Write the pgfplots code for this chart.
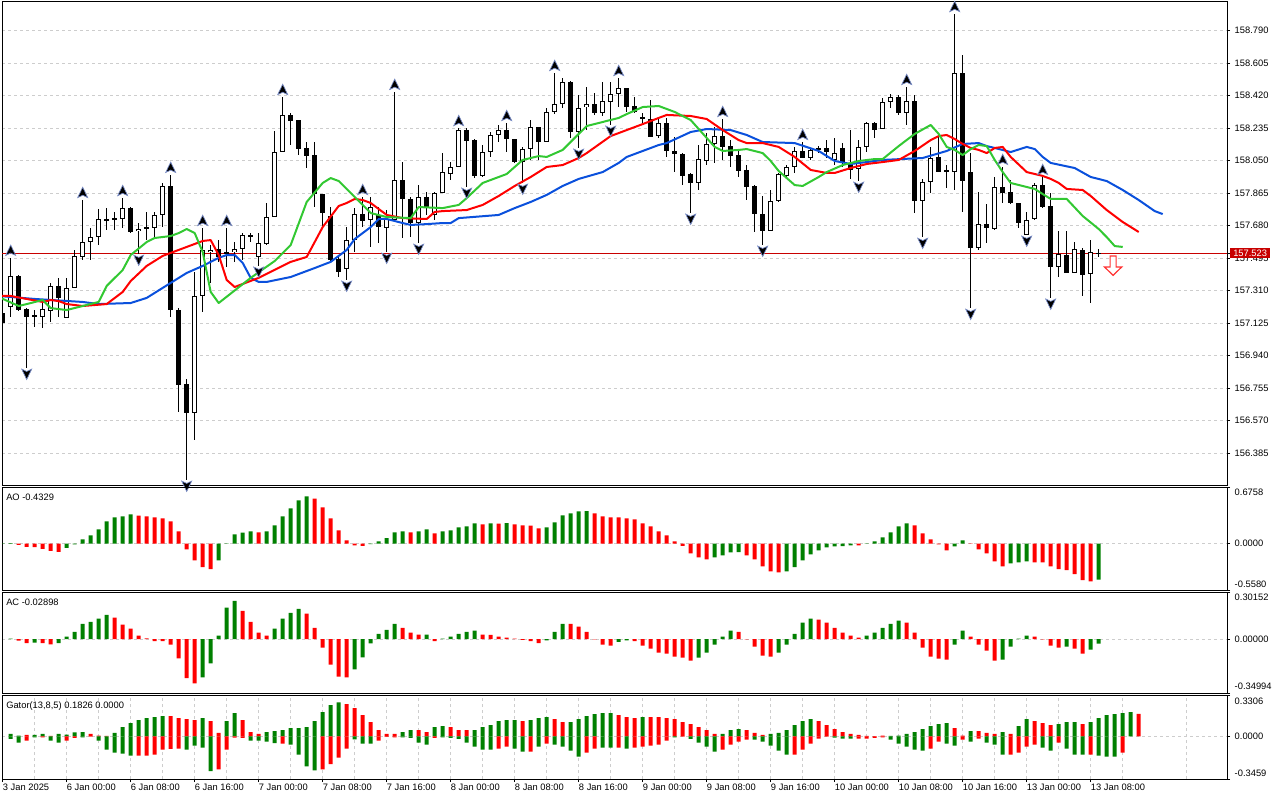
\documentclass[border=0pt]{standalone}
\usepackage{fontspec}
\setmainfont{Liberation Sans}
\usepackage{pgfplots}
\pgfplotsset{compat=1.18}
\usepackage{pgfplotstable}

\definecolor{jawc}{RGB}{10,80,220}
\definecolor{teethc}{RGB}{255,0,0}
\definecolor{lipsc}{RGB}{50,200,50}
\definecolor{barg}{RGB}{0,128,0}
\definecolor{barr}{RGB}{255,0,0}
\definecolor{gridc}{RGB}{205,205,205}
\definecolor{pricec}{RGB}{200,0,0}
\definecolor{fracedge}{RGB}{120,140,200}
\definecolor{selledge}{RGB}{255,50,50}

\pgfdeclareplotmark{fup}{%
  \pgfpathmoveto{\pgfqpoint{0pt}{9.6pt}}%
  \pgfpathlineto{\pgfqpoint{3.75pt}{1.8pt}}%
  \pgfpathlineto{\pgfqpoint{0pt}{3.6pt}}%
  \pgfpathlineto{\pgfqpoint{-3.75pt}{1.8pt}}%
  \pgfpathclose\pgfusepathqfillstroke}
\pgfdeclareplotmark{fdn}{%
  \pgfpathmoveto{\pgfqpoint{0pt}{-8.6pt}}%
  \pgfpathlineto{\pgfqpoint{3.75pt}{-0.8pt}}%
  \pgfpathlineto{\pgfqpoint{0pt}{-2.6pt}}%
  \pgfpathlineto{\pgfqpoint{-3.75pt}{-0.8pt}}%
  \pgfpathclose\pgfusepathqfillstroke}
\pgfdeclareplotmark{sell}{%
  \pgfpathmoveto{\pgfqpoint{-2.25pt}{0pt}}%
  \pgfpathlineto{\pgfqpoint{2.25pt}{0pt}}%
  \pgfpathlineto{\pgfqpoint{2.25pt}{-8.25pt}}%
  \pgfpathlineto{\pgfqpoint{6.5pt}{-8.25pt}}%
  \pgfpathlineto{\pgfqpoint{0pt}{-14.6pt}}%
  \pgfpathlineto{\pgfqpoint{-6.5pt}{-8.25pt}}%
  \pgfpathlineto{\pgfqpoint{-2.25pt}{-8.25pt}}%
  \pgfpathclose\pgfusepathqfillstroke}

\pgfplotstableread{
k o h l c
0 157.183 157.200 157.115 157.126
1 157.217 157.497 157.160 157.394
2 157.394 157.400 157.194 157.200
3 157.206 157.211 156.870 157.160
4 157.166 157.200 157.103 157.171
5 157.160 157.246 157.097 157.206
6 157.194 157.354 157.132 157.337
7 157.337 157.383 157.160 157.269
8 157.154 157.383 157.154 157.326
9 157.326 157.542 157.326 157.508
10 157.502 157.826 157.485 157.587
11 157.587 157.667 157.485 157.615
12 157.615 157.775 157.570 157.718
13 157.712 157.780 157.655 157.718
14 157.718 157.758 157.655 157.723
15 157.718 157.837 157.667 157.780
16 157.780 157.786 157.638 157.644
17 157.649 157.695 157.519 157.661
18 157.667 157.758 157.598 157.672
19 157.667 157.758 157.615 157.741
20 157.741 157.923 157.672 157.906
21 157.906 157.969 157.160 157.200
22 157.200 157.211 156.620 156.774
23 156.779 156.808 156.233 156.614
24 156.614 157.417 156.460 157.280
25 157.280 157.667 157.189 157.542
26 157.530 157.570 157.354 157.542
27 157.547 157.598 157.474 157.502
28 157.519 157.667 157.445 157.530
29 157.530 157.587 157.474 157.547
30 157.547 157.638 157.485 157.627
31 157.621 157.638 157.587 157.627
32 157.502 157.638 157.451 157.581
33 157.575 157.809 157.570 157.729
34 157.729 158.218 157.729 158.099
35 158.099 158.412 158.099 158.310
36 158.310 158.321 158.139 158.276
37 158.281 158.281 158.082 158.116
38 158.122 158.156 158.008 158.076
39 158.082 158.156 157.786 157.860
40 157.860 157.860 157.672 157.752
41 157.735 157.786 157.474 157.485
42 157.491 157.502 157.388 157.417
43 157.434 157.672 157.371 157.598
44 157.598 157.780 157.530 157.746
45 157.746 157.843 157.672 157.706
46 157.712 157.843 157.559 157.786
47 157.741 157.786 157.581 157.672
48 157.667 157.769 157.530 157.718
49 157.712 158.441 157.712 157.940
50 157.940 158.042 157.610 157.832
51 157.832 157.843 157.615 157.695
52 157.695 157.911 157.581 157.843
53 157.843 157.871 157.741 157.786
54 157.741 157.871 157.712 157.866
55 157.866 158.093 157.866 157.985
56 157.974 158.042 157.940 158.014
57 158.014 158.235 158.014 158.224
58 158.224 158.235 157.900 158.161
59 158.167 158.173 157.951 157.963
60 157.963 158.139 157.957 158.099
61 158.099 158.213 158.071 158.196
62 158.196 158.253 158.156 158.224
63 158.224 158.264 158.099 158.173
64 158.173 158.173 158.037 158.042
65 158.042 158.128 157.923 158.116
66 158.116 158.281 158.054 158.241
67 158.241 158.241 158.054 158.156
68 158.156 158.349 158.156 158.327
69 158.327 158.549 158.315 158.372
70 158.372 158.520 158.350 158.497
71 158.497 158.503 158.179 158.213
72 158.213 158.423 158.122 158.349
73 158.355 158.469 158.224 158.372
74 158.372 158.435 158.310 158.321
75 158.321 158.497 158.304 158.389
76 158.384 158.497 158.253 158.429
77 158.429 158.520 158.355 158.463
78 158.463 158.463 158.327 158.355
79 158.361 158.412 158.321 158.327
80 158.298 158.321 158.253 158.287
81 158.287 158.395 158.184 158.184
82 158.190 158.293 158.179 158.264
83 158.264 158.293 158.071 158.105
84 158.105 158.184 157.985 158.088
85 158.088 158.093 157.911 157.963
86 157.974 157.980 157.752 157.923
87 157.923 158.139 157.883 158.059
88 158.048 158.207 158.025 158.145
89 158.145 158.241 158.037 158.190
90 158.190 158.287 158.054 158.128
91 158.133 158.167 158.014 158.076
92 158.082 158.111 157.957 157.991
93 157.997 158.025 157.826 157.900
94 157.906 157.911 157.644 157.746
95 157.746 157.849 157.570 157.649
96 157.649 157.883 157.649 157.820
97 157.820 157.980 157.815 157.974
98 157.963 158.025 157.957 158.014
99 158.014 158.128 157.980 158.105
100 158.105 158.156 158.065 158.065
101 158.065 158.122 158.054 158.111
102 158.111 158.133 158.093 158.122
103 158.122 158.167 158.065 158.099
104 158.054 158.179 158.025 158.093
105 158.122 158.150 158.014 158.037
106 158.031 158.224 157.946 157.997
107 158.002 158.167 157.934 158.128
108 158.128 158.270 158.099 158.264
109 158.264 158.270 158.179 158.224
110 158.230 158.406 158.230 158.384
111 158.384 158.429 158.349 158.412
112 158.412 158.423 158.310 158.321
113 158.321 158.469 158.253 158.389
114 158.389 158.423 157.752 157.820
115 157.820 157.946 157.615 157.929
116 157.929 158.128 157.866 158.065
117 158.071 158.184 157.985 157.985
118 157.997 158.025 157.894 157.985
119 157.985 158.884 157.883 158.549
120 158.549 158.651 157.758 157.934
121 157.985 158.093 157.211 157.553
122 157.553 157.871 157.542 157.689
123 157.689 157.803 157.581 157.667
124 157.661 157.957 157.655 157.900
125 157.900 158.014 157.809 157.866
126 157.871 157.940 157.803 157.809
127 157.809 157.809 157.667 157.695
128 157.627 157.758 157.627 157.712
129 157.718 157.923 157.712 157.911
130 157.911 157.957 157.780 157.786
131 157.792 157.866 157.269 157.445
132 157.445 157.649 157.388 157.519
133 157.513 157.649 157.411 157.411
134 157.411 157.587 157.411 157.547
135 157.542 157.553 157.280 157.400
136 157.405 157.598 157.240 157.530
137 157.525 157.547 157.502 157.523
}\candles

\pgfplotstableread{
k v
-0.5 157.280
4 157.263
10 157.246
12 157.234
16 157.240
18 157.269
20 157.326
23 157.411
25 157.451
26 157.474
27 157.497
28 157.513
29 157.513
30 157.468
31 157.383
32 157.360
33 157.360
36 157.388
39 157.439
41 157.474
43 157.542
44 157.604
46 157.672
47 157.718
48 157.718
50 157.695
51 157.684
53 157.689
55 157.695
56 157.695
57 157.723
62 157.741
64 157.780
66 157.815
68 157.855
70 157.906
72 157.946
75 157.985
77 158.037
78 158.071
80 158.105
82 158.139
83 158.150
86 158.213
88 158.230
91 158.224
93 158.196
95 158.156
99 158.150
102 158.105
104 158.048
106 158.031
108 158.042
110 158.054
115 158.065
118 158.105
120 158.145
122 158.150
123 158.133
124 158.122
126 158.099
128 158.128
129 158.116
130 158.071
131 158.037
134 158.008
136 157.957
138 157.934
140 157.883
142 157.826
144 157.763
145 157.746
}\jaw

\pgfplotstableread{
k v
-0.5 157.280
1 157.280
3 157.263
5 157.246
6 157.257
7 157.251
8 157.234
10 157.223
13 157.234
15 157.303
16 157.365
18 157.451
20 157.508
23 157.559
25 157.593
26 157.598
27 157.513
28 157.371
29 157.331
32 157.383
36 157.474
38 157.502
40 157.672
42 157.792
43 157.809
44 157.832
45 157.826
46 157.809
48 157.741
50 157.723
53 157.718
54 157.758
55 157.763
58 157.769
60 157.798
62 157.849
64 157.906
66 157.957
68 158.014
70 158.025
72 158.065
73 158.093
76 158.190
78 158.224
80 158.258
82 158.293
83 158.310
86 158.304
88 158.287
90 158.224
92 158.167
93 158.150
95 158.150
97 158.128
99 158.071
101 157.997
103 157.980
104 157.980
106 158.008
108 158.031
110 158.042
112 158.054
114 158.105
116 158.167
117 158.190
118 158.196
119 158.173
120 158.145
121 158.122
122 158.111
123 158.093
124 158.122
125 158.128
126 158.071
128 157.985
130 157.963
131 157.946
132 157.923
133 157.889
135 157.883
136 157.849
138 157.769
140 157.701
142 157.644
}\teeth

\pgfplotstableread{
k v
-0.5 157.274
2 157.223
3 157.234
5 157.257
6 157.211
8 157.200
10 157.223
12 157.246
13 157.337
15 157.428
16 157.513
18 157.587
19 157.610
21 157.621
22 157.638
23 157.661
24 157.638
25 157.530
26 157.303
27 157.240
31 157.383
34 157.479
36 157.570
38 157.815
40 157.923
41 157.951
42 157.934
44 157.843
46 157.752
48 157.729
51 157.723
52 157.786
55 157.780
57 157.798
58 157.837
60 157.923
62 157.957
63 157.974
65 158.054
67 158.076
68 158.071
70 158.111
72 158.202
73 158.247
75 158.270
77 158.293
78 158.315
80 158.355
82 158.361
84 158.327
86 158.281
87 158.230
88 158.179
89 158.128
90 158.105
92 158.111
93 158.116
95 158.093
96 158.048
97 157.991
99 157.911
100 157.906
102 157.957
103 157.985
105 158.025
107 158.048
109 158.059
110 158.059
112 158.133
114 158.202
116 158.253
117 158.202
118 158.128
119 158.111
120 158.082
121 158.116
122 158.139
123 158.133
124 158.054
125 157.985
126 157.923
128 157.900
129 157.889
130 157.860
131 157.832
133 157.832
135 157.735
137 157.661
138 157.615
139 157.564
140 157.559
}\lips

\pgfplotstableread{
k v
1 157.497
10 157.826
15 157.837
21 157.969
25 157.667
28 157.667
35 158.412
45 157.843
49 158.441
57 158.235
63 158.264
69 158.549
77 158.520
90 158.287
100 158.156
113 158.469
119 158.884
125 158.014
130 157.957
}\fracup

\pgfplotstableread{
k v
3 156.870
17 157.519
23 156.233
32 157.451
43 157.371
48 157.530
52 157.581
58 157.900
65 157.923
72 158.122
76 158.253
86 157.752
95 157.570
107 157.934
115 157.615
121 157.211
128 157.627
131 157.269
}\fracdn

\pgfplotstableread{
k g r
0 0.003 nan
1 0.005 nan
2 nan -0.015
3 nan -0.040
4 nan -0.042
5 nan -0.064
6 nan -0.088
7 nan -0.100
8 -0.052 nan
9 -0.010 nan
10 0.052 nan
11 0.100 nan
12 0.172 nan
13 0.268 nan
14 0.316 nan
15 0.329 nan
16 0.353 nan
17 nan 0.337
18 nan 0.329
19 nan 0.316
20 nan 0.304
21 nan 0.268
22 nan 0.148
23 nan -0.068
24 nan -0.200
25 nan -0.284
26 nan -0.308
27 -0.200 nan
28 0.002 nan
29 0.112 nan
30 0.132 nan
31 0.148 nan
32 nan 0.136
33 0.148 nan
34 0.220 nan
35 0.329 nan
36 0.425 nan
37 0.521 nan
38 0.569 nan
39 nan 0.541
40 nan 0.437
41 nan 0.304
42 nan 0.160
43 nan 0.040
44 nan -0.020
45 nan -0.028
46 -0.005 nan
47 0.028 nan
48 0.068 nan
49 0.136 nan
50 0.148 nan
51 nan 0.136
52 0.148 nan
53 0.172 nan
54 nan 0.124
55 0.148 nan
56 0.160 nan
57 0.196 nan
58 0.208 nan
59 0.244 nan
60 nan 0.232
61 0.244 nan
62 nan 0.242
63 0.246 nan
64 nan 0.232
65 nan 0.220
66 nan 0.218
67 nan 0.184
68 0.196 nan
69 0.256 nan
70 0.341 nan
71 0.365 nan
72 0.389 nan
73 0.392 nan
74 nan 0.365
75 nan 0.329
76 nan 0.316
77 nan 0.315
78 nan 0.304
79 nan 0.292
80 nan 0.244
81 nan 0.208
82 nan 0.148
83 nan 0.100
84 nan 0.028
85 nan -0.028
86 nan -0.116
87 nan -0.164
88 nan -0.188
89 -0.164 nan
90 -0.140 nan
91 -0.104 nan
92 -0.102 nan
93 nan -0.140
94 nan -0.188
95 nan -0.272
96 nan -0.333
97 nan -0.345
98 -0.333 nan
99 -0.284 nan
100 -0.200 nan
101 -0.128 nan
102 -0.080 nan
103 -0.044 nan
104 -0.032 nan
105 -0.030 nan
106 -0.020 nan
107 nan -0.021
108 0.002 nan
109 0.028 nan
110 0.076 nan
111 0.136 nan
112 0.208 nan
113 0.244 nan
114 nan 0.220
115 nan 0.124
116 nan 0.052
117 nan -0.008
118 nan -0.080
119 -0.032 nan
120 0.040 nan
121 nan -0.003
122 nan -0.068
123 nan -0.116
124 nan -0.212
125 nan -0.272
126 -0.236 nan
127 -0.224 nan
128 -0.212 nan
129 nan -0.224
130 nan -0.226
131 nan -0.272
132 nan -0.308
133 nan -0.320
134 nan -0.368
135 nan -0.440
136 nan -0.453
137 -0.4329 nan
}\ao

\pgfplotstableread{
k g r
1 0.002 nan
2 nan -0.011
3 nan -0.026
4 -0.024 nan
5 nan -0.026
6 nan -0.034
7 -0.026 nan
8 0.015 nan
9 0.047 nan
10 0.099 nan
11 0.112 nan
12 0.132 nan
13 0.157 nan
14 nan 0.138
15 nan 0.093
16 nan 0.067
17 nan 0.022
18 nan 0.004
19 nan -0.013
20 nan -0.014
21 nan -0.037
22 nan -0.125
23 nan -0.254
24 nan -0.287
25 -0.248 nan
26 -0.157 nan
27 0.022 nan
28 0.203 nan
29 0.248 nan
30 nan 0.183
31 nan 0.112
32 nan 0.041
33 nan 0.022
34 0.067 nan
35 0.132 nan
36 0.170 nan
37 0.196 nan
38 nan 0.164
39 nan 0.073
40 nan -0.056
41 nan -0.166
42 nan -0.244
43 nan -0.248
44 -0.196 nan
45 -0.119 nan
46 -0.028 nan
47 0.034 nan
48 0.060 nan
49 0.099 nan
50 nan 0.073
51 nan 0.041
52 nan 0.028
53 0.029 nan
54 nan -0.013
55 0.002 nan
56 0.015 nan
57 0.034 nan
58 0.047 nan
59 0.054 nan
60 nan 0.028
61 nan 0.027
62 nan 0.015
63 nan 0.009
64 nan 0.002
65 nan -0.006
66 nan -0.013
67 nan -0.026
68 -0.008 nan
69 0.047 nan
70 0.099 nan
71 nan 0.098
72 nan 0.080
73 nan 0.047
74 nan -0.002
75 nan -0.037
76 nan -0.043
77 -0.019 nan
78 -0.008 nan
79 nan -0.013
80 nan -0.043
81 nan -0.063
82 nan -0.088
83 nan -0.095
84 nan -0.114
85 nan -0.121
86 nan -0.140
87 -0.121 nan
88 -0.088 nan
89 -0.037 nan
90 0.015 nan
91 0.054 nan
92 nan 0.047
93 nan -0.003
94 nan -0.050
95 nan -0.108
96 nan -0.114
97 -0.088 nan
98 -0.037 nan
99 0.034 nan
100 0.106 nan
101 0.132 nan
102 nan 0.125
103 nan 0.106
104 nan 0.073
105 nan 0.041
106 nan 0.022
107 nan 0.009
108 0.022 nan
109 0.041 nan
110 0.073 nan
111 0.099 nan
112 0.119 nan
113 nan 0.106
114 nan 0.041
115 nan -0.056
116 nan -0.114
117 nan -0.127
118 nan -0.134
119 -0.037 nan
120 0.054 nan
121 nan 0.015
122 nan -0.037
123 nan -0.075
124 nan -0.140
125 -0.134 nan
126 -0.050 nan
127 0.002 nan
128 0.022 nan
129 nan 0.015
130 nan -0.002
131 nan -0.043
132 nan -0.056
133 -0.050 nan
134 nan -0.063
135 nan -0.095
136 -0.069 nan
137 -0.02898 nan
}\ac

\pgfplotstableread{
k ug ur lg lr
1 0.019 nan -0.021 nan
2 0.005 nan -0.051 nan
3 nan 0.011 nan -0.035
4 0.011 nan -0.008 nan
5 0.019 nan nan -0.008
6 nan 0.004 -0.035 nan
7 0.019 nan -0.051 nan
8 0.013 nan nan -0.035
9 0.032 nan nan -0.013
10 0.035 nan -0.008 nan
11 nan 0.019 nan -0.003
12 nan 0.005 -0.035 nan
13 nan 0.004 -0.107 nan
14 0.027 nan -0.132 nan
15 0.075 nan -0.140 nan
16 0.107 nan -0.156 nan
17 0.132 nan nan -0.156
18 0.148 nan nan -0.156
19 0.156 nan nan -0.148
20 0.164 nan nan -0.107
21 nan 0.164 nan -0.102
22 nan 0.148 nan -0.099
23 nan 0.140 -0.107 nan
24 nan 0.132 -0.075 nan
25 0.148 nan -0.091 nan
26 nan 0.123 -0.282 nan
27 nan 0.027 nan -0.268
28 0.123 nan nan -0.107
29 0.188 nan nan -0.011
30 nan 0.132 nan -0.013
31 nan 0.035 -0.035 nan
32 nan 0.019 -0.035 nan
33 0.035 nan -0.043 nan
34 0.043 nan -0.056 nan
35 0.051 nan nan -0.059
36 0.067 nan -0.067 nan
37 0.067 nan -0.148 nan
38 0.075 nan -0.244 nan
39 0.123 nan -0.276 nan
40 0.196 nan nan -0.268
41 0.252 nan nan -0.225
42 0.276 nan nan -0.172
43 nan 0.260 nan -0.099
44 nan 0.228 -0.024 nan
45 nan 0.172 -0.059 nan
46 nan 0.115 -0.059 nan
47 nan 0.051 nan -0.035
48 nan 0.019 nan -0.005
49 nan 0.019 nan -0.008
50 0.035 nan -0.008 nan
51 0.051 nan -0.013 nan
52 nan 0.051 -0.051 nan
53 nan 0.035 -0.067 nan
54 0.075 nan nan -0.013
55 0.083 nan -0.008 nan
56 nan 0.075 -0.013 nan
57 nan 0.051 -0.021 nan
58 nan 0.051 -0.051 nan
59 0.051 nan -0.083 nan
60 0.075 nan -0.107 nan
61 0.091 nan -0.107 nan
62 0.123 nan nan -0.099
63 0.132 nan nan -0.083
64 0.132 nan -0.099 nan
65 nan 0.123 -0.123 nan
66 0.132 nan nan -0.123
67 0.148 nan -0.083 nan
68 0.156 nan nan -0.059
69 nan 0.140 -0.067 nan
70 nan 0.115 -0.083 nan
71 0.115 nan -0.115 nan
72 0.140 nan -0.164 nan
73 0.164 nan nan -0.132
74 0.180 nan nan -0.099
75 0.188 nan -0.091 nan
76 0.188 nan -0.091 nan
77 nan 0.172 nan -0.091
78 nan 0.156 -0.099 nan
79 nan 0.148 nan -0.091
80 0.156 nan nan -0.083
81 nan 0.156 nan -0.075
82 nan 0.156 nan -0.067
83 nan 0.148 nan -0.035
84 nan 0.140 -0.008 nan
85 nan 0.115 nan -0.002
86 nan 0.099 -0.021 nan
87 nan 0.075 -0.051 nan
88 nan 0.051 -0.083 nan
89 nan 0.019 -0.123 nan
90 0.019 nan nan -0.107
91 0.051 nan nan -0.067
92 0.059 nan nan -0.043
93 nan 0.051 nan -0.027
94 nan 0.027 -0.027 nan
95 nan 0.011 -0.043 nan
96 0.019 nan -0.075 nan
97 0.027 nan -0.115 nan
98 0.051 nan -0.148 nan
99 0.091 nan nan -0.148
100 0.123 nan nan -0.107
101 0.140 nan nan -0.059
102 nan 0.123 nan -0.019
103 nan 0.091 nan -0.003
104 nan 0.059 -0.011 nan
105 nan 0.035 -0.019 nan
106 nan 0.019 -0.019 nan
107 nan 0.011 nan -0.019
108 nan 0.003 nan -0.019
109 nan 0.002 nan -0.013
110 nan 0.005 nan -0.008
111 0.004 nan -0.027 nan
112 0.006 nan -0.059 nan
113 0.019 nan -0.083 nan
114 0.035 nan -0.107 nan
115 0.059 nan -0.115 nan
116 0.083 nan nan -0.099
117 0.099 nan nan -0.043
118 0.107 nan -0.059 nan
119 nan 0.067 -0.075 nan
120 nan 0.005 nan -0.027
121 0.043 nan -0.043 nan
122 nan 0.043 nan -0.019
123 nan 0.027 -0.051 nan
124 nan 0.019 -0.067 nan
125 0.035 nan -0.148 nan
126 nan 0.019 nan -0.148
127 0.083 nan nan -0.132
128 0.140 nan nan -0.083
129 nan 0.123 nan -0.067
130 nan 0.107 -0.091 nan
131 nan 0.091 -0.115 nan
132 0.099 nan nan -0.051
133 0.115 nan -0.099 nan
134 0.115 nan -0.148 nan
135 nan 0.099 -0.148 nan
136 0.115 nan nan -0.148
137 0.148 nan -0.156 nan
138 0.172 nan -0.164 nan
139 0.180 nan -0.164 nan
140 0.188 nan nan -0.132
141 0.196 nan nan nan
142 nan 0.1826 nan nan
}\gator

\pgfplotsset{
  panel/.style={
    scale only axis, width=918.75pt, anchor=north west,
    xmin=-0.0875, xmax=153.0375,
    axis line style={black, line width=0.75pt},
    tick align=outside, major tick length=2.25pt, minor tick length=0pt,
    tick style={black, line width=0.75pt},
    ytick pos=right, yticklabel pos=right,
    xtick=\empty, minor xtick={0,4,...,152},
    xminorgrids=true, ymajorgrids=true,
    grid style={gridc, line width=0.75pt, dash pattern=on 2.25pt off 2.25pt},
    tick label style={font=\fontsize{7}{8}\selectfont},
    /pgf/number format/assume math mode=true,
    clip=true,
  },
  hbar/.style={ybar, bar width=3pt, bar shift=0pt, draw=none, fill=#1},
  candle/.style={draw=none, mark=none, error bars/.cd, y dir=both, y explicit, error mark=none,
    error bar style={line cap=butt, #1}},
}
\tikzset{ptitle/.style={anchor=north west, inner sep=0pt, xshift=3pt, yshift=-4.3pt, font=\fontsize{7}{8}\selectfont}}

\begin{document}
\begin{tikzpicture}
\useasboundingbox (0,0) rectangle (960pt,-600pt);

% ---------------- main price panel ----------------
\begin{axis}[panel, at={(1.5pt,-1.125pt)}, height=362.625pt,
  ymin=156.2044, ymax=158.9555,
  ytick={156.385,156.570,156.755,156.940,157.125,157.310,157.495,157.680,157.865,158.050,158.235,158.420,158.605,158.790},
  yticklabels={156.385,156.570,156.755,156.940,157.125,157.310,157.495,157.680,157.865,158.050,158.235,158.420,158.605,158.790},
  extra y ticks={157.523}, extra y tick labels={157.523},
  extra y tick style={grid=none, yticklabel style={fill=pricec, text=white, inner xsep=2.25pt, inner ysep=1.3pt}},
]
\addplot[pricec, line width=0.75pt] coordinates {(-1,157.523) (160,157.523)};
% wicks
\addplot[candle={draw=black, line width=0.75pt}]
  table[x=k, y expr={(\thisrow{h}+\thisrow{l})/2}, y error expr={(\thisrow{h}-\thisrow{l})/2}] {\candles};
% bodies
\addplot[candle={draw=black, line width=3.75pt}]
  table[x=k, y expr={(\thisrow{o}+\thisrow{c})/2}, y error expr={max(abs(\thisrow{c}-\thisrow{o})/2,0.0029)}] {\candles};
\addplot[candle={draw=white, line width=2.25pt}]
  table[x=k, y expr={(\thisrow{o}+\thisrow{c})/2}, y error expr={max((\thisrow{c}-\thisrow{o})/2-0.0057,0)}] {\candles};
% alligator
\addplot[jawc, line width=1.5pt, line join=round] table[x=k, y=v] {\jaw};
\addplot[teethc, line width=1.5pt, line join=round] table[x=k, y=v] {\teeth};
\addplot[lipsc, line width=1.5pt, line join=round] table[x=k, y=v] {\lips};
% fractals
\addplot[only marks, mark=fup, mark options={fill=black, draw=fracedge, line width=0.5pt}] table[x=k, y=v] {\fracup};
\addplot[only marks, mark=fdn, mark options={fill=black, draw=fracedge, line width=0.5pt}] table[x=k, y=v] {\fracdn};
% sell signal
\addplot[only marks, mark=sell, mark options={fill=white, draw=selledge, line width=0.9pt}] coordinates {(138.8,157.508)};
\end{axis}

% ---------------- AO ----------------
\begin{axis}[panel, at={(1.5pt,-365.625pt)}, height=76.875pt,
  ymin=-0.5580, ymax=0.6758,
  ytick={-0.5580,0,0.6758}, yticklabels={,,},
  extra y ticks={-0.488,0,0.614}, extra y tick labels={-0.5580,0.0000,0.6758},
  extra y tick style={grid=none, major tick length=0pt, yticklabel style={xshift=2.25pt}},
]
\addplot[hbar=barg] table[x=k, y=g] {\ao};
\addplot[hbar=barr] table[x=k, y=r] {\ao};
\node[ptitle] at (rel axis cs:0,1) {AO -0.4329};
\end{axis}

% ---------------- AC ----------------
\begin{axis}[panel, at={(1.5pt,-444.375pt)}, height=75.375pt,
  ymin=-0.34994, ymax=0.30152,
  ytick={-0.34994,0,0.30152}, yticklabels={,,},
  extra y ticks={-0.309,0,0.269}, extra y tick labels={-0.34994,0.00000,0.30152},
  extra y tick style={grid=none, major tick length=0pt, yticklabel style={xshift=2.25pt}},
]
\addplot[hbar=barg] table[x=k, y=g] {\ac};
\addplot[hbar=barr] table[x=k, y=r] {\ac};
\node[ptitle] at (rel axis cs:0,1) {AC -0.02898};
\end{axis}

% ---------------- Gator ----------------
\begin{axis}[panel, at={(1.5pt,-521.625pt)}, height=62.625pt,
  ymin=-0.3459, ymax=0.3306,
  ytick={-0.3459,0,0.3306}, yticklabels={,,},
  extra y ticks={-0.299,0,0.286}, extra y tick labels={-0.3459,0.0000,0.3306},
  extra y tick style={grid=none, major tick length=0pt, yticklabel style={xshift=2.25pt}},
  xtick={0,8,...,136}, xtick pos=left, xticklabel pos=left,
  minor xtick={4,12,...,148}, xmajorgrids=true,
  xticklabels={3 Jan 2025,6 Jan 00:00,6 Jan 08:00,6 Jan 16:00,7 Jan 00:00,7 Jan 08:00,7 Jan 16:00,8 Jan 00:00,8 Jan 08:00,8 Jan 16:00,9 Jan 00:00,9 Jan 08:00,9 Jan 16:00,10 Jan 00:00,10 Jan 08:00,10 Jan 16:00,13 Jan 00:00,13 Jan 08:00},
  xticklabel style={anchor=north west, inner sep=0pt, yshift=-1.6pt},
]
\addplot[hbar=barg] table[x=k, y=ug] {\gator};
\addplot[hbar=barr] table[x=k, y=ur] {\gator};
\addplot[hbar=barg] table[x=k, y=lg] {\gator};
\addplot[hbar=barr] table[x=k, y=lr] {\gator};
\node[ptitle] at (rel axis cs:0,1) {Gator(13,8,5) 0.1826 0.0000};
\end{axis}
\end{tikzpicture}
\end{document}
